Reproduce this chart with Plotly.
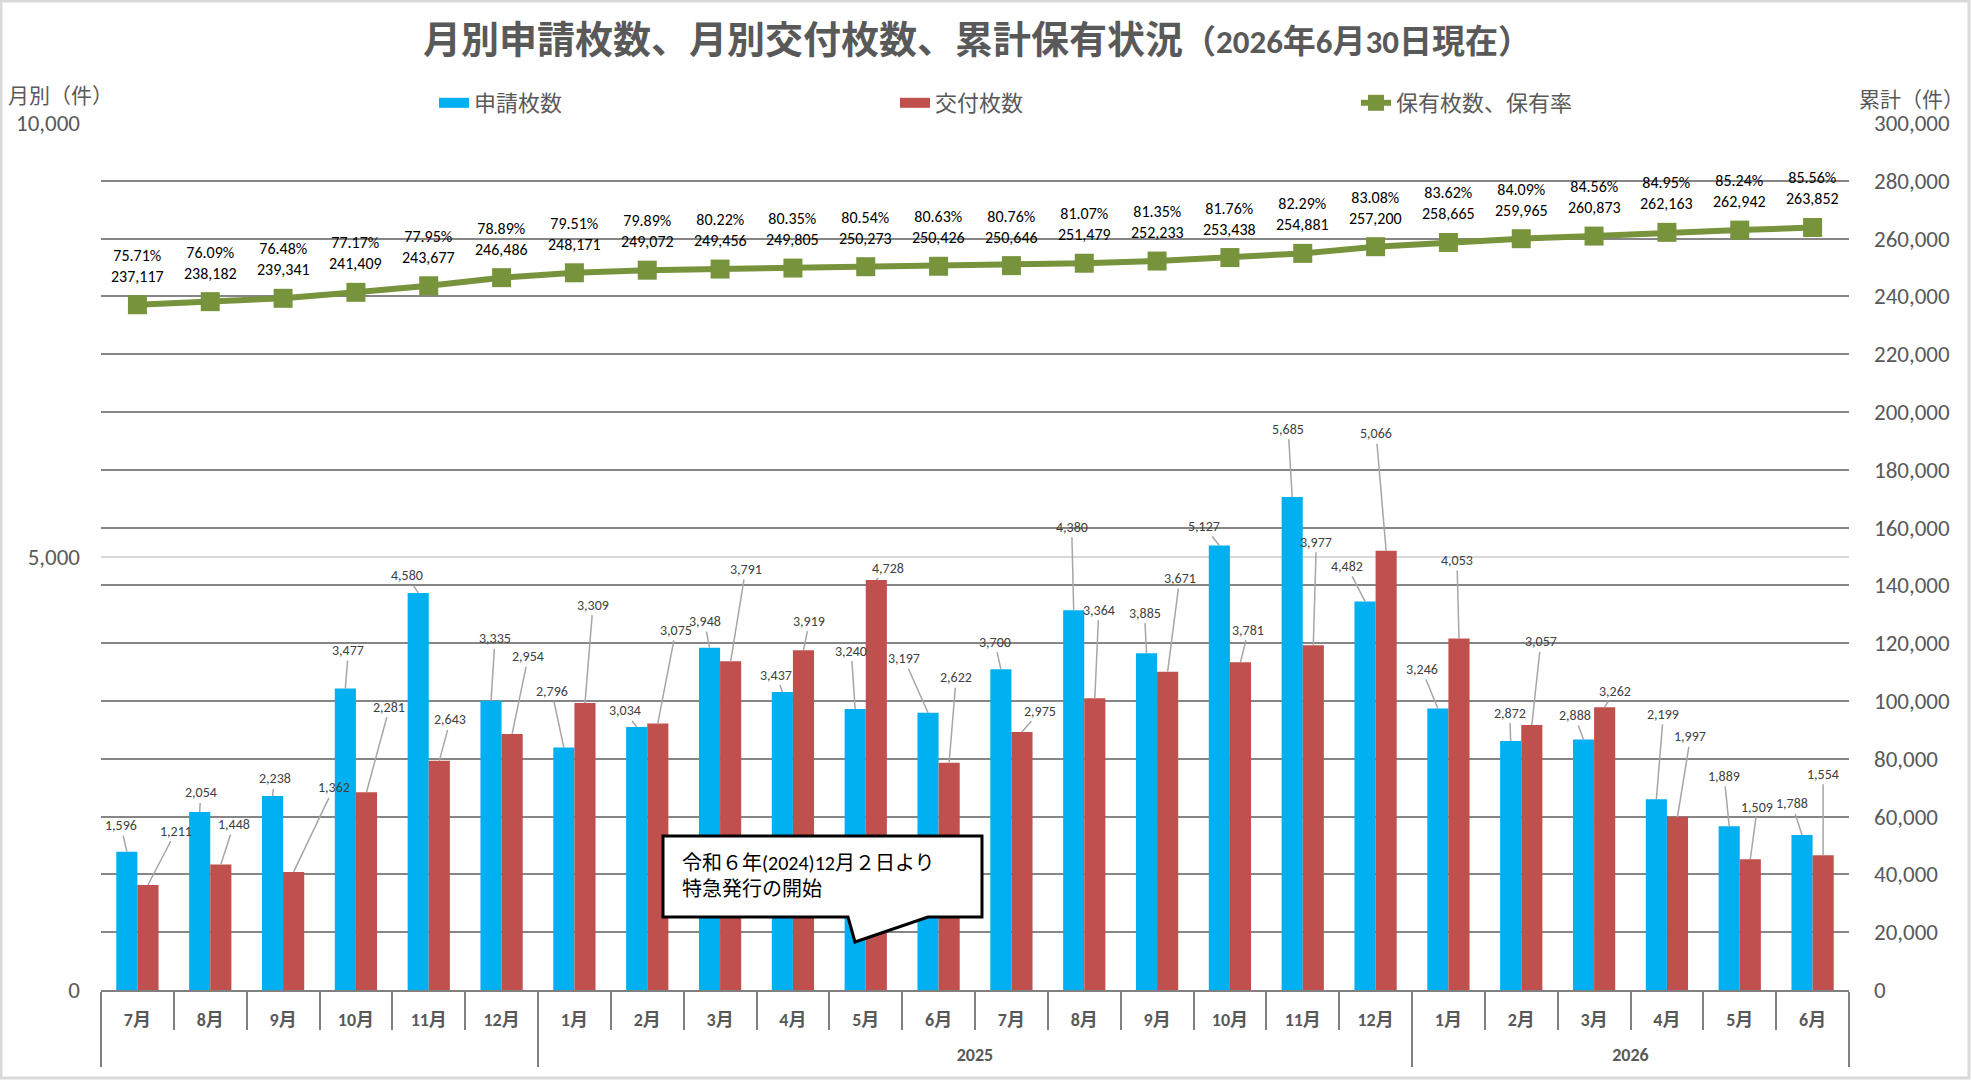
import plotly.graph_objects as go

# ---------------- data ----------------
ZW = "\u200b"  # keeps the 2024 months distinct from the 2025 months on the category axis
months = ["7月" + ZW, "8月" + ZW, "9月" + ZW, "10月" + ZW, "11月" + ZW, "12月" + ZW,
          "1月", "2月", "3月", "4月", "5月", "6月", "7月", "8月", "9月", "10月", "11月", "12月",
          "1月", "2月", "3月", "4月", "5月", "6月"]
years = [" "] * 6 + ["<br>2025"] * 12 + ["<br>2026"] * 6

applications = [1596, 2054, 2238, 3477, 4580, 3335,
                2796, 3034, 3948, 3437, 3240, 3197, 3700, 4380, 3885, 5127, 5685, 4482,
                3246, 2872, 2888, 2199, 1889, 1788]
issued = [1211, 1448, 1362, 2281, 2643, 2954,
          3309, 3075, 3791, 3919, 4728, 2622, 2975, 3364, 3671, 3781, 3977, 5066,
          4053, 3057, 3262, 1997, 1509, 1554]
cumulative = [237117, 238182, 239341, 241409, 243677, 246486,
              248171, 249072, 249456, 249805, 250273, 250426, 250646, 251479, 252233, 253438, 254881, 257200,
              258665, 259965, 260873, 262163, 262942, 263852]
holding_rate = [75.71, 76.09, 76.48, 77.17, 77.95, 78.89,
                79.51, 79.89, 80.22, 80.35, 80.54, 80.63, 80.76, 81.07, 81.35, 81.76, 82.29, 83.08,
                83.62, 84.09, 84.56, 84.95, 85.24, 85.56]

# label placement (pixel offsets of each data label from its bar top) -- layout only
app_label_offsets = [(-6, -26), (1, -19), (2, -17), (3, -38), (-11, -17), (4, -62),
                     (-12, -56), (-12, -16), (-5, -26), (-6, -17), (-4, -58), (-24, -54),
                     (-6, -27), (-2, -83), (-2, -40), (-15, -19), (-4, -68), (-18, -35),
                     (-16, -39), (-1, -28), (-9, -24), (7, -85), (-5, -50), (-10, -31)]
iss_label_offsets = [(28, -54), (13, -40), (40, -84), (23, -85), (11, -41), (16, -77),
                     (8, -98), (18, -93), (15, -92), (6, -29), (12, -12), (7, -85),
                     (18, -21), (4, -88), (12, -93), (8, -32), (3, -103), (-10, -117),
                     (-2, -78), (9, -83), (10, -16), (13, -80), (7, -52), (0, -81)]

# ---------------- layout geometry ----------------
W, H = 1972, 1081
PL, PR, PT, PB = 101, 1849, 123, 990


def px(x):
    return (x - PL) / (PR - PL)


def py(y):
    return (PB - y) / (PB - PT)


FONT = "Carlito, 'Liberation Sans Narrow', 'Noto Sans CJK JP', sans-serif"
GRAY = "#595959"
BLUE = "#00B0F0"
RED = "#C0504D"
GREEN = "#77933C"
BARW = 0.29

fig = go.Figure()
fig.add_trace(go.Bar(x=[years, months], y=applications, name="申請枚数", showlegend=False,
                     legendgroup="app", marker=dict(color=BLUE, line=dict(width=0))))
fig.add_trace(go.Bar(x=[years, months], y=issued, name="交付枚数", showlegend=False,
                     legendgroup="iss", marker=dict(color=RED, line=dict(width=0))))
# legend swatches (wide rectangles, as in the original legend)
fig.add_trace(go.Scatter(x=[None], y=[None], mode="lines", name="申請枚数", legendgroup="app",
                         line=dict(color=BLUE, width=14)))
fig.add_trace(go.Scatter(x=[None], y=[None], mode="lines", name="交付枚数", legendgroup="iss",
                         line=dict(color=RED, width=14)))
fig.add_trace(go.Scatter(
    x=[years, months], y=cumulative, yaxis="y2", name="保有枚数、保有率",
    mode="lines+markers",
    line=dict(color=GREEN, width=6),
    marker=dict(symbol="square", size=19, color=GREEN),
    cliponaxis=False,
))
# helper axis for label anchoring
fig.add_trace(go.Scatter(x=[], y=[], xaxis="x2", showlegend=False, hoverinfo="skip"))

annotations = []
for i, (r, c) in enumerate(zip(holding_rate, cumulative)):
    annotations.append(dict(x=i, y=c, xref="x2", yref="y2", text=f"{r:.2f}%<br>{c:,}",
                            showarrow=False, yanchor="bottom", yshift=17,
                            font=dict(family=FONT, size=16, color="#000000")))
for i, (v, (dx, dy)) in enumerate(zip(applications, app_label_offsets)):
    annotations.append(dict(x=i - BARW / 2, y=v, xref="x2", yref="y", text=f"{v:,}",
                            showarrow=True, arrowhead=0, arrowwidth=1.5, arrowcolor="#A6A6A6",
                            ax=dx, ay=dy, standoff=0,
                            font=dict(family=FONT, size=14, color="#404040")))
for i, (v, (dx, dy)) in enumerate(zip(issued, iss_label_offsets)):
    annotations.append(dict(x=i + BARW / 2, y=v, xref="x2", yref="y", text=f"{v:,}",
                            showarrow=True, arrowhead=0, arrowwidth=1.5, arrowcolor="#A6A6A6",
                            ax=dx, ay=dy, standoff=0,
                            font=dict(family=FONT, size=14, color="#404040")))

annotations += [
    dict(text="月別（件）", xref="paper", yref="paper", x=px(6), y=py(96), xanchor="left",
         yanchor="middle", showarrow=False, font=dict(family=FONT, size=21, color=GRAY)),
    dict(text="累計（件）", xref="paper", yref="paper", x=px(1966), y=py(100), xanchor="right",
         yanchor="middle", showarrow=False, font=dict(family=FONT, size=21, color=GRAY)),
    dict(text="令和６年(2024)12月２日より<br>特急発行の開始", xref="paper", yref="paper",
         x=px(680), y=py(876), xanchor="left", yanchor="middle", align="left", showarrow=False,
         font=dict(family=FONT, size=20, color="#000000")),
]

callout = [(663, 836), (982, 836), (982, 917), (928, 917), (855, 942), (848, 917), (663, 917)]
path = "M " + " L ".join(f"{px(a):.5f},{py(b):.5f}" for a, b in callout) + " Z"
shapes = [
    dict(type="path", xref="paper", yref="paper", path=path, fillcolor="white",
         line=dict(color="black", width=3), layer="above"),
    dict(type="rect", xref="paper", yref="paper", x0=px(1), x1=px(1969), y0=py(1), y1=py(1078),
         line=dict(color="#D9D9D9", width=3), fillcolor="rgba(0,0,0,0)"),
]

fig.update_layout(
    width=W, height=H,
    margin=dict(l=PL, r=W - PR, t=PT, b=H - PB, autoexpand=False),
    paper_bgcolor="white", plot_bgcolor="white",
    font=dict(family=FONT, color=GRAY),
    barmode="group", bargap=0.42, bargroupgap=0,
    title=dict(
        text="<b>月別申請枚数、月別交付枚数、累計保有状況</b><b><span style='font-size:33px'>（2026年6月30日現在）</span></b>",
        x=977 / W, xanchor="center", y=1 - 40 / H, yanchor="middle",
        font=dict(family=FONT, size=38, color=GRAY)),
    legend=dict(orientation="h", x=px(434), xanchor="left", y=py(103), yanchor="middle",
                entrywidth=416, font=dict(family=FONT, size=22, color=GRAY),
                bgcolor="rgba(0,0,0,0)", traceorder="normal"),
    xaxis=dict(type="multicategory", range=[-0.5, 23.5], showline=True, linecolor="#808080",
               linewidth=2, ticks="outside", tickson="boundaries", ticklen=38,
               tickcolor="#808080", tickwidth=2, showdividers=True, dividercolor="#808080",
               dividerwidth=2, showgrid=False, ticklabelstandoff=12,
               tickfont=dict(family=FONT, size=18, color=GRAY, weight="bold")),
    xaxis2=dict(overlaying="x", range=[-0.5, 23.5], visible=False, anchor="y"),
    yaxis=dict(range=[0, 10000], tickvals=[0, 5000, 10000], tickformat=",", showgrid=True,
               gridcolor="#D9D9D9", gridwidth=2, zeroline=False, ticklabelstandoff=20,
               tickfont=dict(family=FONT, size=23, color=GRAY)),
    yaxis2=dict(overlaying="y", side="right", range=[0, 300000], dtick=20000, tickformat=",",
                showgrid=True, gridcolor="#868686", gridwidth=2, zeroline=False,
                ticklabelstandoff=24, tickfont=dict(family=FONT, size=23, color=GRAY)),
    annotations=annotations,
    shapes=shapes,
)

fig.write_html("out.html")
